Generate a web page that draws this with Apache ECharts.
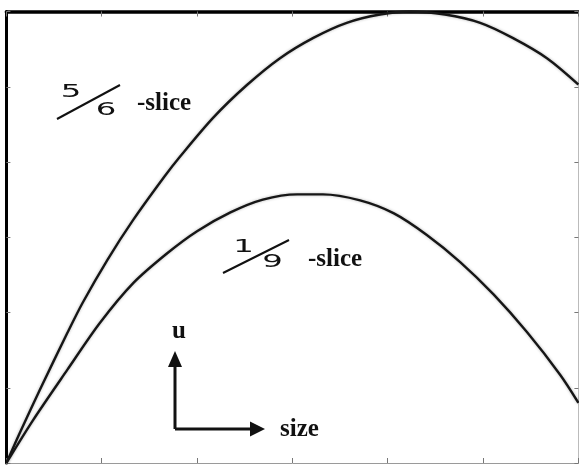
<!DOCTYPE html>
<html>
<head>
<meta charset="utf-8">
<script src="https://cdn.jsdelivr.net/npm/echarts@6/dist/echarts.min.js"></script>
<style>
  html, body { margin: 0; padding: 0; background: #fff; }
  #chart { width: 579px; height: 465px; }
</style>
</head>
<body>
<div id="chart"></div>
<script>
// curves, in tick units (6 x 6 box)
var slice56 = [
    [0, 0], [0.14, 0.4], [0.35, 0.97], [0.64, 1.73], [0.8, 2.13], [1.06, 2.7],
    [1.33, 3.23], [1.66, 3.81], [1.82, 4.07], [2.17, 4.59], [2.52, 5.02],
    [2.87, 5.38], [3.22, 5.65], [3.57, 5.85], [3.92, 5.96], [4.23, 6.0],
    [4.6, 5.96], [4.97, 5.85], [5.31, 5.65], [5.67, 5.38], [6.0, 5.03]
];
var slice19 = [
    [0, 0], [0.28, 0.57], [0.64, 1.24], [0.98, 1.86], [1.33, 2.39], [1.69, 2.79],
    [2.0, 3.08], [2.35, 3.33], [2.69, 3.5], [3.05, 3.57], [3.32, 3.57],
    [3.71, 3.49], [4.06, 3.32], [4.41, 3.03], [4.76, 2.67], [5.11, 2.24],
    [5.46, 1.74], [5.81, 1.17], [6.0, 0.8]
];
var xRange = [0, 6];
var yRange = [0, 6];

var chart = echarts.init(document.getElementById('chart'));

var serif = 'bold 25px "Liberation Serif", "Times New Roman", serif';
var digits = '17px "DejaVu Sans", sans-serif';

function axisStyle(color, width) {
    return {
        show: true,
        onZero: false,
        lineStyle: { color: color, width: width }
    };
}
var tick = { show: true, inside: true, length: 5, lineStyle: { color: '#777', width: 1 } };

function txt(x, y, text, font, align, sx) {
    return {
        type: 'text', x: x, y: y, scaleX: sx || 1, z: 10,
        style: {
            text: text, font: font, fill: '#111',
            textAlign: align, textVerticalAlign: 'middle',
            align: align, verticalAlign: 'middle'
        }
    };
}
function seg(x1, y1, x2, y2, w) {
    return {
        type: 'line', z: 10,
        shape: { x1: x1, y1: y1, x2: x2, y2: y2 },
        style: { stroke: '#111', lineWidth: w }
    };
}
function head(points) {
    return { type: 'polygon', z: 10, shape: { points: points }, style: { fill: '#111' } };
}

var curveStyle = { color: '#161616', width: 2.4, shadowColor: 'rgba(0,0,0,0.3)', shadowBlur: 3 };

var option = {
    backgroundColor: '#fff',
    animation: false,
    grid: { left: 6.4, top: 11.5, width: 572, height: 451.5 },
    xAxis: [
        {
            type: 'value', min: xRange[0], max: xRange[1], interval: 1, position: 'bottom',
            axisLine: axisStyle('#9a9a9a', 1), axisTick: tick,
            axisLabel: { show: false }, splitLine: { show: false }
        },
        {
            type: 'value', min: xRange[0], max: xRange[1], interval: 1, position: 'top',
            axisLine: axisStyle('#000', 3.5), axisTick: tick,
            axisLabel: { show: false }, splitLine: { show: false }
        }
    ],
    yAxis: [
        {
            type: 'value', min: yRange[0], max: yRange[1], interval: 1, position: 'left',
            axisLine: axisStyle('#000', 3), axisTick: { show: true, inside: true, length: 4, lineStyle: { color: '#777' } },
            axisLabel: { show: false }, splitLine: { show: false }
        },
        {
            type: 'value', min: yRange[0], max: yRange[1], interval: 1, position: 'right',
            axisLine: axisStyle('#bbb', 1), axisTick: { show: true, inside: true, length: 4, lineStyle: { color: '#777' } },
            axisLabel: { show: false }, splitLine: { show: false }
        }
    ],
    series: [
        {
            name: '5/6-slice', type: 'line', data: slice56, smooth: 0.3,
            symbol: 'none', lineStyle: curveStyle
        },
        {
            name: '1/9-slice', type: 'line', data: slice19, smooth: 0.3,
            symbol: 'none', lineStyle: curveStyle
        }
    ],
    graphic: [
        // 5/6 -slice
        txt(71, 92.5, '5', digits, 'center', 1.9),
        seg(57, 119, 120, 85, 2),
        txt(106, 111, '6', digits, 'center', 1.9),
        txt(137, 103.5, '-slice', serif, 'left'),
        // 1/9 -slice
        txt(243.5, 247.5, '1', digits, 'center', 1.9),
        seg(223, 273, 289, 240, 2),
        txt(272.5, 262.5, '9', digits, 'center', 1.9),
        txt(308, 259.5, '-slice', serif, 'left'),
        // u / size arrows
        txt(179, 332, 'u', serif, 'center'),
        seg(175, 429, 175, 364, 3),
        head([[175, 351], [168, 367], [182, 367]]),
        seg(175, 429, 252, 429, 3),
        head([[265, 429], [250, 421.5], [250, 436.5]]),
        txt(280, 430, 'size', serif, 'left')
    ]
};

option && chart.setOption(option);
window.addEventListener('resize', function () {
    chart.resize();
});
</script>
</body>
</html>
